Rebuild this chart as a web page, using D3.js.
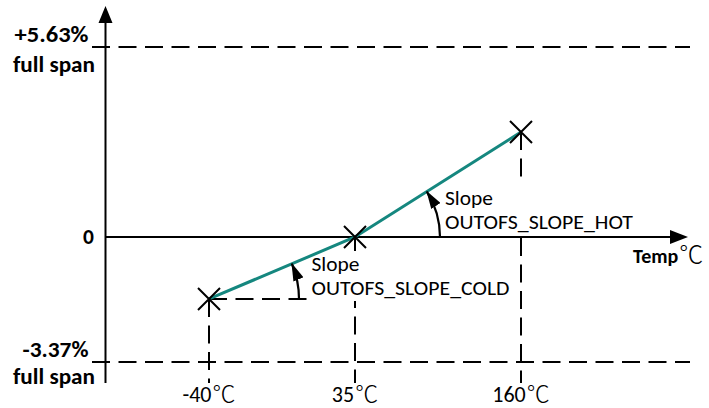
<!DOCTYPE html>
<html>
<head>
<meta charset="utf-8">
<script src="https://cdn.jsdelivr.net/npm/d3@7"></script>
<style>
  html, body { margin: 0; padding: 0; background: #fff; }
  svg { display: block; }
  text { font-family: Carlito, Lato, "Open Sans", sans-serif; fill: #000; }
  .deg { font-family: "Noto Sans CJK SC", "Noto Sans CJK JP", sans-serif; font-weight: 300; }
</style>
</head>
<body>
<svg id="chart" width="709" height="408"></svg>
<script>
// Temperature points (°C) and the output offset at each (% of full span)
const temps = [-40, 35, 160];
const offsets = [-1.67, 0, 3.11];
const tempLabels = ["-40", "35", "160"];

// Full-span limits and their labels
const spanLimits = [5.63, -3.37];
const spanLabels = ["+5.63%", "-3.37%"];
const zeroLabel = "0";
const spanCaption = "full span";

// Slope annotations: [from point index, to point index]
const slopeNames = ["OUTOFS_SLOPE_COLD", "OUTOFS_SLOPE_HOT"];
const slopeSegments = [[0, 1], [1, 2]];

const svg = d3.select("#chart");
const teal = "#15877f";

// Piecewise scales for the schematic axes
const x = d3.scaleLinear().domain([-40, 35, 160]).range([209, 355, 521]);
const y = d3.scaleLinear().domain([-3.37, 0, 5.63]).range([362, 237, 47]);

const axisX0 = 105.5, axisXEnd = 688, axisYTop = 6, axisYBottom = 383;
const dash = "18,8.5";

// Stretch a text element to a given advance width
function fit(sel, w) {
  return sel.attr("textLength", w).attr("lengthAdjust", "spacingAndGlyphs");
}

const defs = svg.append("defs");
defs.append("marker").attr("id", "arc-head")
  .attr("viewBox", "0 0 18 11").attr("refX", 17).attr("refY", 5.5)
  .attr("markerWidth", 18).attr("markerHeight", 11).attr("markerUnits", "userSpaceOnUse")
  .attr("orient", "auto")
  .append("path").attr("d", "M0,0 L18,5.5 L0,11 Z").attr("fill", "#000");

const pts = temps.map((t, i) => ({ t, v: offsets[i], px: x(t), py: y(offsets[i]) }));

// Full-span dashed limits
svg.selectAll("line.limit").data(spanLimits).join("line")
  .attr("class", "limit")
  .attr("x1", 92).attr("x2", 690)
  .attr("y1", d => y(d)).attr("y2", d => y(d))
  .attr("stroke", "#000").attr("stroke-width", 2).attr("stroke-dasharray", dash);

// Vertical drop lines from each point
svg.selectAll("line.drop").data(pts).join("line")
  .attr("class", "drop")
  .attr("x1", d => d.px).attr("x2", d => d.px)
  .attr("y1", d => d.py).attr("y2", axisYBottom)
  .attr("stroke", "#000").attr("stroke-width", 2).attr("stroke-dasharray", dash);

// Horizontal reference from the cold point
svg.append("line")
  .attr("x1", pts[0].px).attr("x2", pts[1].px)
  .attr("y1", pts[0].py).attr("y2", pts[0].py)
  .attr("stroke", "#000").attr("stroke-width", 2).attr("stroke-dasharray", dash);

// Slope label groups (white backing boxes drawn first)
const slopeLabelPos = [
  { lx: 311.5, ly: 271, w1: 48, w2: 198 },
  { lx: 445, ly: 205, w1: 48, w2: 188 }
];
const labelG = svg.append("g");
slopeNames.forEach((name, i) => {
  const p = slopeLabelPos[i];
  const g = labelG.append("g");
  const rect = g.append("rect").attr("fill", "#fff");
  fit(g.append("text").attr("x", p.lx).attr("y", p.ly).attr("font-size", 19.5).text("Slope"), p.w1);
  fit(g.append("text").attr("x", p.lx).attr("y", p.ly + 24).attr("font-size", 19.5).text(name), p.w2);
  const bb = g.node().getBBox();
  rect.attr("x", bb.x - 2).attr("y", bb.y - 1).attr("width", bb.width + 4).attr("height", bb.height + 2);
});

// Axes with arrowheads
svg.append("line").attr("x1", axisX0).attr("x2", axisX0)
  .attr("y1", axisYTop + 14).attr("y2", axisYBottom)
  .attr("stroke", "#000").attr("stroke-width", 2);
svg.append("path")
  .attr("d", `M${axisX0},${axisYTop} L${axisX0 - 7},${axisYTop + 17} L${axisX0 + 7},${axisYTop + 17} Z`)
  .attr("fill", "#000");
svg.append("line").attr("x1", axisX0).attr("x2", axisXEnd - 14)
  .attr("y1", y(0)).attr("y2", y(0))
  .attr("stroke", "#000").attr("stroke-width", 2);
svg.append("path")
  .attr("d", `M${axisXEnd},${y(0)} L${axisXEnd - 18},${y(0) - 7} L${axisXEnd - 18},${y(0) + 7} Z`)
  .attr("fill", "#000");

// Offset curve
svg.append("path").datum(pts)
  .attr("d", d3.line().x(d => d.px).y(d => d.py))
  .attr("fill", "none").attr("stroke", teal).attr("stroke-width", 3);

// Point markers
const cross = 11;
svg.selectAll("path.mark").data(pts).join("path")
  .attr("class", "mark")
  .attr("d", d => `M${d.px - cross},${d.py - cross} L${d.px + cross},${d.py + cross} M${d.px - cross},${d.py + cross} L${d.px + cross},${d.py - cross}`)
  .attr("stroke", "#000").attr("stroke-width", 2).attr("fill", "none");

// Angle arcs for each slope
const arcRadius = [90, 85];
slopeSegments.forEach(([a, b], i) => {
  const p = pts[a], q = pts[b];
  const ang = Math.atan2(p.py - q.py, q.px - p.px);
  const r = arcRadius[i];
  const sx = p.px + r, sy = p.py;
  const ex = p.px + r * Math.cos(ang), ey = p.py - r * Math.sin(ang);
  svg.append("path")
    .attr("d", `M${sx},${sy} A${r},${r} 0 0 0 ${ex},${ey}`)
    .attr("fill", "none").attr("stroke", "#000").attr("stroke-width", 2.2)
    .attr("marker-end", "url(#arc-head)");
});

// Y-axis labels
const yLab = svg.append("g").attr("text-anchor", "end").attr("font-weight", "bold").attr("font-size", 21.5);
spanLimits.forEach((v, i) => {
  const base = i === 0 ? 42 : 357;
  fit(yLab.append("text").attr("x", 88.5).attr("y", base).text(spanLabels[i]), i === 0 ? 74 : 66);
  fit(yLab.append("text").attr("x", 95).attr("y", base + (i === 0 ? 30 : 27)).text(spanCaption), 82);
});
yLab.append("text").attr("x", 94).attr("y", y(0) + 7).text(zeroLabel);

// X-axis temperature labels
const tl = svg.selectAll("text.temp").data(temps).join("text")
  .attr("class", "temp")
  .attr("x", d => x(d)).attr("y", 402)
  .attr("text-anchor", "middle").attr("font-size", 22);
tl.append("tspan").text((d, i) => tempLabels[i]);
tl.append("tspan").attr("class", "deg").attr("dx", 1).attr("font-size", 23).text("℃");

// Axis title
const title = svg.append("text").attr("x", 633).attr("y", 263).attr("font-size", 20);
title.append("tspan").attr("font-weight", "bold").text("Temp");
title.append("tspan").attr("class", "deg").attr("dx", 1).attr("font-size", 24).text("℃");
</script>
</body>
</html>
